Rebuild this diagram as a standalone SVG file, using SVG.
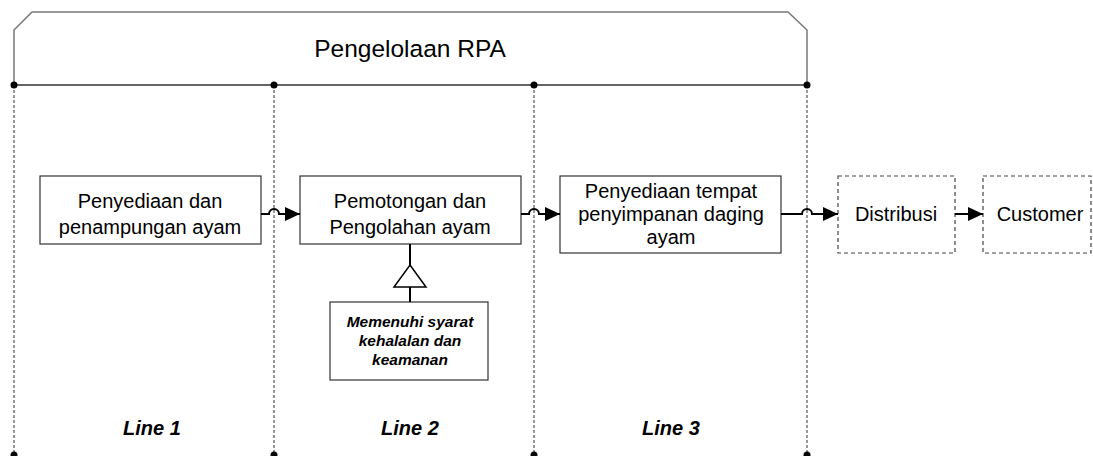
<svg xmlns="http://www.w3.org/2000/svg" width="1093" height="456" viewBox="0 0 1093 456">
<style>
.box{fill:#fff;stroke:#333;stroke-width:1.2}
.dbox{fill:#fff;stroke:#444;stroke-width:1.2;stroke-dasharray:4 3}
.t{font-family:"Liberation Sans",Arial,sans-serif;font-size:20px;fill:#000;text-anchor:middle}
.bi{font-family:"Liberation Sans",Arial,sans-serif;font-weight:bold;font-style:italic;fill:#000;text-anchor:middle}
.vl{stroke:#333;stroke-width:1;stroke-dasharray:3 2}
.con{fill:none;stroke:#000;stroke-width:2}
</style>
<defs>
<marker id="ah2" viewBox="0 0 15 14" refX="15" refY="7" markerWidth="15" markerHeight="14" orient="auto" markerUnits="userSpaceOnUse">
<path d="M0,0 L15,7 L0,14 Z" fill="#000"/>
</marker>
</defs>
<g id="rpa">
<path d="M14,85 L14,30 L32,12 L788,12 L807,30 L807,85 Z" fill="#fff" stroke="#777" stroke-width="1.5"/>
<line x1="14" y1="85" x2="807" y2="85" stroke="#555" stroke-width="1.5"/>
<text class="t" x="410" y="57" style="font-size:24.5px">Pengelolaan RPA</text>
</g>
<g id="lanes">
<line class="vl" x1="14" y1="85" x2="14" y2="456"/>
<line class="vl" x1="274" y1="85" x2="274" y2="456"/>
<line class="vl" x1="534" y1="85" x2="534" y2="456"/>
<line class="vl" x1="807" y1="85" x2="807" y2="456"/>
<circle cx="14" cy="85" r="3.5"/><circle cx="274" cy="85" r="3.5"/><circle cx="534" cy="85" r="3.5"/><circle cx="807" cy="85" r="3.5"/>
<circle cx="14" cy="455" r="3.5"/><circle cx="274" cy="455" r="3.5"/><circle cx="534" cy="455" r="3.5"/><circle cx="807" cy="455" r="3.5"/>
<text class="bi" x="152" y="435" style="font-size:20px">Line 1</text>
<text class="bi" x="410" y="435" style="font-size:20px">Line 2</text>
<text class="bi" x="671" y="435" style="font-size:20px">Line 3</text>
</g>
<g id="n1">
<rect class="box" x="40" y="176" width="221" height="68"/>
<text class="t" x="150" y="208">Penyediaan dan</text>
<text class="t" x="150" y="234">penampungan ayam</text>
</g>
<g id="n2">
<rect class="box" x="300" y="176" width="221" height="68"/>
<text class="t" x="410" y="208">Pemotongan dan</text>
<text class="t" x="410" y="234">Pengolahan ayam</text>
</g>
<g id="n3">
<rect class="box" x="560" y="176" width="221" height="77"/>
<text class="t" x="671" y="198">Penyediaan tempat</text>
<text class="t" x="671" y="221">penyimpanan daging</text>
<text class="t" x="671" y="244">ayam</text>
</g>
<g id="n4">
<rect class="dbox" x="838" y="176" width="117" height="77"/>
<text class="t" x="896" y="221">Distribusi</text>
</g>
<g id="n5">
<rect class="dbox" x="983" y="176" width="108" height="77"/>
<text class="t" x="1040" y="221">Customer</text>
</g>
<g id="n6">
<rect class="box" x="330" y="302" width="158" height="78"/>
<text class="bi" x="410" y="327" style="font-size:15.5px">Memenuhi syarat</text>
<text class="bi" x="410" y="346" style="font-size:15.5px">kehalalan dan</text>
<text class="bi" x="410" y="365" style="font-size:15.5px">keamanan</text>
</g>
<g id="connectors">
<path class="con" d="M261,214 H269 A5,5 0 0 1 279,214 H300" marker-end="url(#ah2)"/>
<path class="con" d="M521,214 H529 A5,5 0 0 1 539,214 H560" marker-end="url(#ah2)"/>
<path class="con" d="M781,214 H802 A5,5 0 0 1 812,214 H838" marker-end="url(#ah2)"/>
<path class="con" d="M955,214 H983" marker-end="url(#ah2)"/>
<line x1="410" y1="244" x2="410" y2="265" stroke="#000" stroke-width="2"/>
<path d="M410,265 L426,287 L394,287 Z" fill="#fff" stroke="#000" stroke-width="1.5"/>
<line x1="410" y1="287" x2="410" y2="302" stroke="#000" stroke-width="2"/>
</g>
</svg>
